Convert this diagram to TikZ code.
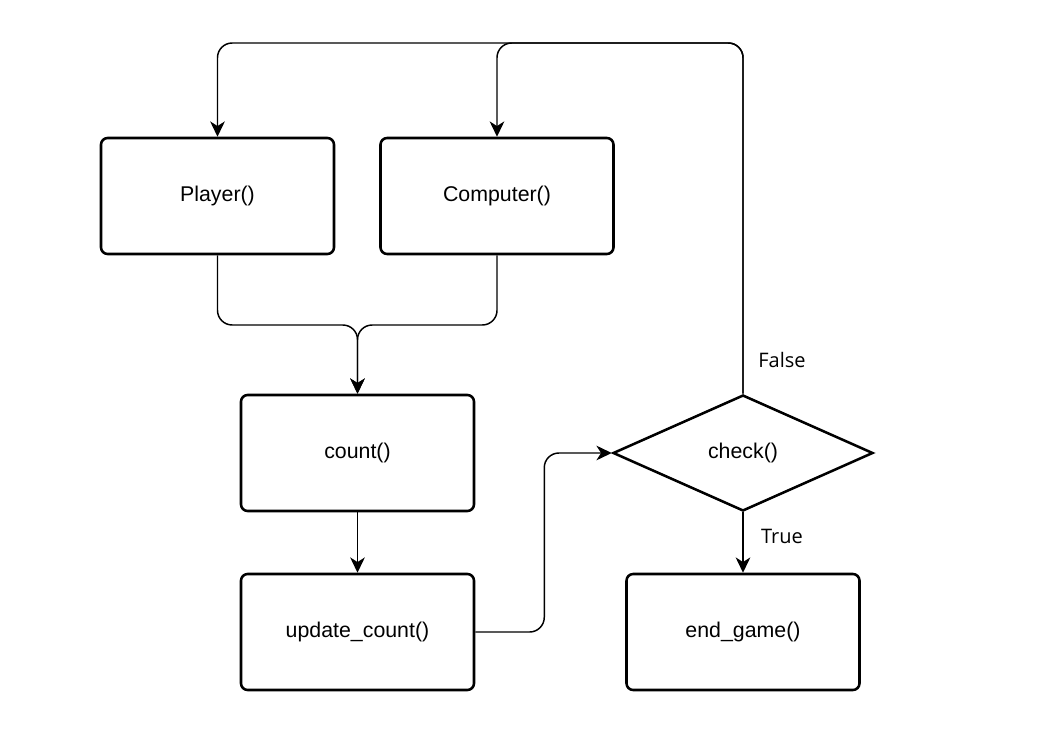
\documentclass[tikz,border=0pt]{standalone}
\usepackage{fontspec}
\setmainfont{Liberation Sans}
\newfontfamily\labelfont{Open Sans}
\usetikzlibrary{shapes.geometric,arrows.meta}
\begin{document}
\begin{tikzpicture}[
    x=0.75pt, y=-0.75pt,
    box/.style={draw, line width=1.9pt, rounded corners=5pt, minimum width=174.75pt, minimum height=87pt, inner sep=0pt, font=\fontsize{16pt}{18pt}\selectfont},
    cond/.style={draw, diamond, line width=1.9pt, aspect=2.24, minimum width=195pt, minimum height=87pt, inner sep=0pt, font=\fontsize{16pt}{18pt}\selectfont},
    conn/.style={line width=1.1pt, rounded corners=11pt, -{Stealth[length=11.5pt, width=11pt, inset=3.5pt]}},
    lbl/.style={font=\labelfont\fontsize{15pt}{18pt}\selectfont}
]
    \useasboundingbox (0,0) rectangle (1042,738);

    % boxes
    \node[box] (player) at (217.5, 196) {Player()};
    \node[box] (computer) at (497, 196) {Computer()};
    \node[box] (count) at (357.5, 453) {count()};
    \node[box] (update) at (357.5, 632) {update\_count()};
    \node[cond] (check) at (743, 453) {check()};
    \node[box] (endgame) at (743, 632) {end\_game()};

    % helper points
    \coordinate (loop) at (743, 43);
    \coordinate (merge) at (357.5, 325);

    % connectors
    \draw[conn] (check.north) -- (loop) -| (player.north);
    \draw[conn] (check.north) -- (loop) -| (computer.north);
    \draw[conn] (player.south) |- (merge) -- (count.north);
    \draw[conn] (computer.south) |- (merge) -- (count.north);
    \draw[conn] (count.south) -- (update.north);
    \draw[conn] (update.east) -- ++(69, 0) |- (check.west);
    \draw[conn] (check.south) -- (endgame.north);

    % labels
    \node[lbl] (falselbl) at (782, 360) {False};
    \node[lbl] (truelbl) at (782, 536) {True};
\end{tikzpicture}
\end{document}
